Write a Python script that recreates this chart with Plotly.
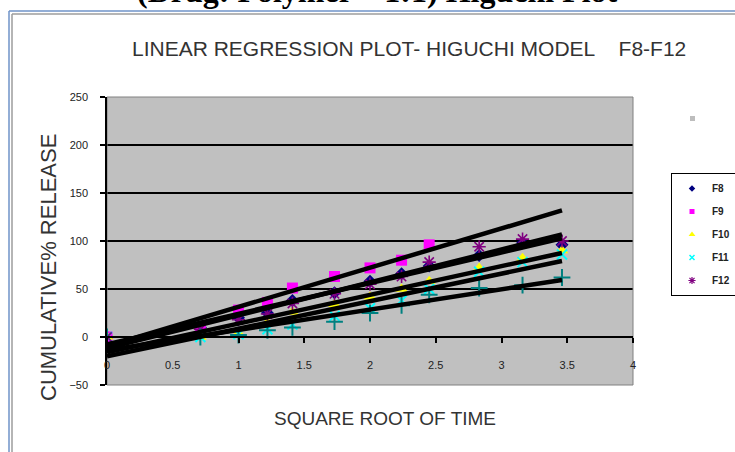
import numpy as np
import plotly.graph_objects as go

# Square root of time (h^0.5) and cumulative % release per formulation
sqrt_time = [0, 0.71, 1.0, 1.22, 1.41, 1.73, 2.0, 2.24, 2.45, 2.83, 3.16, 3.46]
f8 = [0, 10, 20, 25, 38, 46, 58, 66, 74, 85, 98, 96]
f9 = [0, 10, 28, 36, 51, 63, 72, 80, 96, None, None, None]
f10 = [0, 0, 4, 15, 26, 34, 42, 50, 58, 72, 82, 90]
f11 = [0, 0, 3, 8, 13, 22, 30, 38, 50, 68, 78, 86]
f12 = [0, 8, 18, 24, 35, 45, 55, 63, 78, 94, 102, 100]
extra = [0, 0, 2, 7, 10, 16, 25, 33, 44, 51, 54, 62]

y_ticks = [-50, 0, 50, 100, 150, 200, 250]
grid_values = [50, 100, 150, 200]
x_ticks = [0, 0.5, 1, 1.5, 2, 2.5, 3, 3.5, 4]

W, H = 735, 452
L, R, T, B = 107, 633, 97, 385
X_RANGE = [0, 4]
Y_RANGE = [-50, 250]


def px(xp):
    return (xp - L) / (R - L)


def py(yp):
    return (B - yp) / (B - T)


FONT = "Arial, Liberation Sans, sans-serif"

series = [
    ("F8", f8, dict(symbol="diamond", color="#000080", size=10), dict(symbol="diamond", color="#000080", size=5)),
    ("F9", f9, dict(symbol="square", color="#FF00FF", size=11), dict(symbol="square", color="#FF00FF", size=5)),
    ("F10", f10, dict(symbol="triangle-up", color="#FFFF00", size=11), dict(symbol="triangle-up", color="#FFFF00", size=6)),
    ("F11", f11, dict(symbol="x-thin-open", color="#00FFFF", size=10, line=dict(width=2, color="#00FFFF")),
     dict(symbol="x-thin-open", color="#00FFFF", size=5, line=dict(width=1.5, color="#00FFFF"))),
    ("F12", f12, dict(symbol="asterisk-open", color="#800080", size=11, line=dict(width=1.6, color="#800080")),
     dict(symbol="asterisk-open", color="#800080", size=6, line=dict(width=1.2, color="#800080"))),
    (None, extra, dict(symbol="cross-thin-open", color="#008080", size=12, line=dict(width=2, color="#008080")), None),
]

fig = go.Figure()

# Observed points
for name, vals, mk, _ in series:
    fig.add_trace(go.Scatter(x=sqrt_time, y=vals, mode="markers", marker=mk,
                             showlegend=False, name=name or "", hoverinfo="skip"))

# Least-squares trendlines over the sampled time span
x_span = np.array([min(sqrt_time), max(sqrt_time)])
for name, vals, _, _ in series:
    xs = np.array([x for x, v in zip(sqrt_time, vals) if v is not None], dtype=float)
    ys = np.array([v for v in vals if v is not None], dtype=float)
    slope, icpt = np.polyfit(xs, ys, 1)
    fig.add_trace(go.Scatter(x=x_span, y=slope * x_span + icpt, mode="lines",
                             line=dict(color="black", width=4.5), showlegend=False,
                             hoverinfo="skip"))

# Legend entries with small symbols
for i, (name, _, _, lmk) in enumerate(series):
    if name is None:
        continue
    fig.add_trace(go.Scatter(x=[None], y=[None], mode="markers", marker=lmk, name=name,
                             legendgroup="g%d" % i, showlegend=True))

shapes = []
for v in grid_values:
    shapes.append(dict(type="line", xref="x domain", yref="y", x0=0, x1=1, y0=v, y1=v,
                       line=dict(color="black", width=2), layer="below"))
shapes.append(dict(type="rect", xref="x domain", yref="y domain", x0=0, x1=1, y0=0, y1=1,
                   line=dict(color="#808080", width=1), layer="below"))
# Page frame around the chart object
shapes += [
    dict(type="line", xref="paper", yref="paper", x0=px(9), x1=px(740), y0=py(11), y1=py(11),
         line=dict(color="#6F93C8", width=1.5)),
    dict(type="line", xref="paper", yref="paper", x0=px(12), x1=px(740), y0=py(14), y1=py(14),
         line=dict(color="#9C9C9C", width=1.5)),
    dict(type="line", xref="paper", yref="paper", x0=px(9), x1=px(9), y0=py(11), y1=py(460),
         line=dict(color="#6F93C8", width=1.5)),
    dict(type="line", xref="paper", yref="paper", x0=px(12), x1=px(12), y0=py(14), y1=py(460),
         line=dict(color="#9C9C9C", width=1.5)),
    dict(type="rect", xref="paper", yref="paper", x0=px(690), x1=px(695), y0=py(116), y1=py(121),
         line=dict(width=0), fillcolor="#BDBDBD"),
]

annotations = [
    dict(text="(Drug: Polymer \u2013 1:1) Higuchi Plot", xref="paper", yref="paper",
         x=px(377), y=py(11), xanchor="center", yanchor="bottom", showarrow=False,
         font=dict(family="Liberation Serif, Times New Roman, serif", size=32, color="black", weight="bold")),
    dict(text="LINEAR REGRESSION PLOT- HIGUCHI MODEL\u00a0\u00a0\u00a0 F8-F12", xref="paper", yref="paper",
         x=px(409), y=py(48), xanchor="center", yanchor="middle", showarrow=False,
         font=dict(family=FONT, size=21, color="#333333")),
    dict(text="CUMULATIVE% RELEASE", xref="paper", yref="paper", x=px(48), y=py(268),
         xanchor="center", yanchor="middle", textangle=-90, showarrow=False,
         font=dict(family=FONT, size=22, color="#333333")),
    dict(text="SQUARE ROOT OF TIME", xref="paper", yref="paper", x=px(385), y=py(418),
         xanchor="center", yanchor="middle", showarrow=False,
         font=dict(family=FONT, size=19, color="#333333")),
]

zero_pos = (0 - Y_RANGE[0]) / (Y_RANGE[1] - Y_RANGE[0])

fig.update_layout(
    width=W, height=H,
    margin=dict(l=L, r=W - R, t=T, b=H - B, pad=0, autoexpand=False),
    paper_bgcolor="white", plot_bgcolor="#C0C0C0",
    font=dict(family=FONT, color="#222222"),
    shapes=shapes, annotations=annotations,
    showlegend=True,
    legend=dict(x=px(671), y=py(173), xanchor="left", yanchor="top",
                bgcolor="white", bordercolor="black", borderwidth=1,
                font=dict(family=FONT, size=10, color="#222222", weight="bold"),
                itemwidth=30, tracegroupgap=4, traceorder="grouped"),
    xaxis=dict(range=X_RANGE, tickvals=x_ticks, anchor="free", position=zero_pos,
               showline=True, linecolor="black", linewidth=1.5,
               ticks="outside", ticklen=5, tickcolor="black", tickwidth=1.5,
               showgrid=False, zeroline=False, ticklabelstandoff=13,
               tickfont=dict(size=11, color="#222222")),
    yaxis=dict(range=Y_RANGE, tickvals=y_ticks,
               showline=True, linecolor="black", linewidth=1.5,
               ticks="outside", ticklen=5, tickcolor="black", tickwidth=1.5,
               showgrid=False, zeroline=False, ticklabelstandoff=10,
               tickfont=dict(size=11, color="#222222")),
)

fig.write_html("out.html")
